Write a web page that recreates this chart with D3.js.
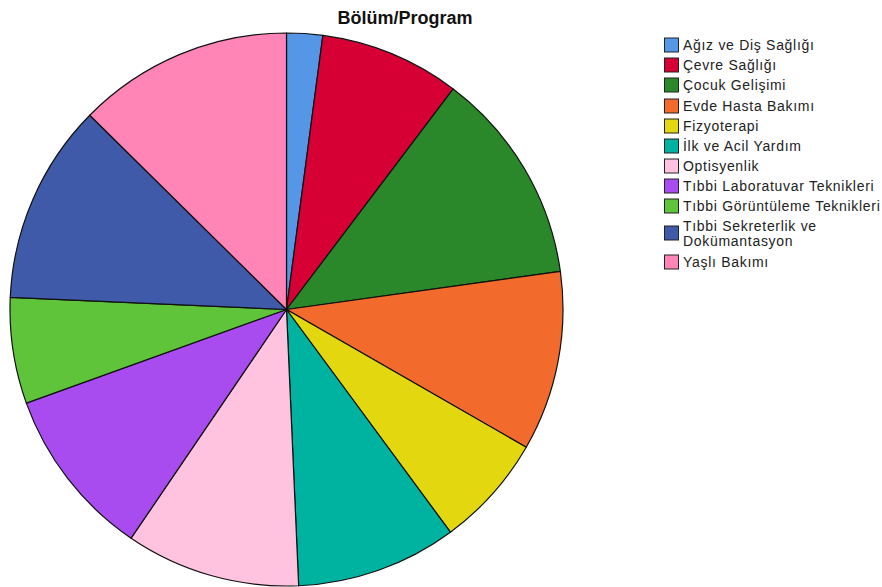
<!DOCTYPE html>
<html>
<head>
<meta charset="utf-8">
<script src="https://cdn.jsdelivr.net/npm/d3@7"></script>
<style>
  body { margin: 0; background: #fff; }
  text { font-family: "Liberation Sans", Arial, sans-serif; }
</style>
</head>
<body>
<script>
// Bölüm/Program pie - shares (percent)
var categories = ["Ağız ve Diş Sağlığı", "Çevre Sağlığı", "Çocuk Gelişimi", "Evde Hasta Bakımı",
  "Fizyoterapi", "İlk ve Acil Yardım", "Optisyenlik", "Tıbbi Laboratuvar Teknikleri",
  "Tıbbi Görüntüleme Teknikleri", "Tıbbi Sekreterlik ve Dokümantasyon", "Yaşlı Bakımı"];
var values = [2.1, 8.2, 12.5, 10.5, 6.6, 9.4, 10.2, 10.0, 6.2, 11.7, 12.6];
var colors = ["#5596e6", "#d70034", "#2a882a", "#f26a2c", "#e3d80f", "#00b3a0",
  "#ffc3e0", "#a84cf0", "#5fc43a", "#3f5aa8", "#ff85b7"];
// legend labels, wrapped like the original
var legendLines = [["Ağız ve Diş Sağlığı"], ["Çevre Sağlığı"], ["Çocuk Gelişimi"], ["Evde Hasta Bakımı"],
  ["Fizyoterapi"], ["İlk ve Acil Yardım"], ["Optisyenlik"], ["Tıbbi Laboratuvar Teknikleri"],
  ["Tıbbi Görüntüleme Teknikleri"], ["Tıbbi Sekreterlik ve", "Dokümantasyon"], ["Yaşlı Bakımı"]];

var w = 882, h = 587,
    cx = 286.5, cy = 309.5, r = 276.5;

var svg = d3.select("body").append("svg")
  .attr("width", w)
  .attr("height", h);

svg.append("text")
  .attr("x", 405).attr("y", 24)
  .attr("text-anchor", "middle")
  .style("font-weight", "bold")
  .style("font-size", "18px")
  .attr("fill", "#111")
  .text("Bölüm/Program");

var pie = d3.pie().sort(null).value(function(d){ return d; });
var arc = d3.arc().innerRadius(0).outerRadius(r);

var g = svg.append("g").attr("transform", "translate(" + cx + "," + cy + ")");
g.selectAll("path")
  .data(pie(values))
  .enter().append("path")
  .attr("d", arc)
  .attr("fill", function(d, i){ return colors[i]; })
  .attr("stroke", "#111")
  .attr("stroke-width", 1.2)
  .attr("stroke-linejoin", "round");

// legend
var rowY = [45, 65, 85, 106, 126, 146, 166, 186, 206, 233, 262];
var leg = svg.append("g");
var items = leg.selectAll("g")
  .data(categories)
  .enter().append("g")
  .attr("transform", function(d, i){ return "translate(664," + rowY[i] + ")"; });

items.append("rect")
  .attr("x", 0.5).attr("y", -7)
  .attr("width", 14).attr("height", 14)
  .attr("fill", function(d, i){ return colors[i]; })
  .attr("stroke", "#222")
  .attr("stroke-width", 1);

items.each(function(d, i){
  var lines = legendLines[i];
  var t = d3.select(this).append("text")
    .attr("x", 19)
    .style("font-size", "14px")
    .style("letter-spacing", "0.7px")
    .attr("fill", "#222");
  lines.forEach(function(s, k){
    t.append("tspan")
      .attr("x", 19)
      .attr("y", (k - (lines.length - 1) / 2) * 15 + 5)
      .text(s);
  });
});
</script>
</body>
</html>
